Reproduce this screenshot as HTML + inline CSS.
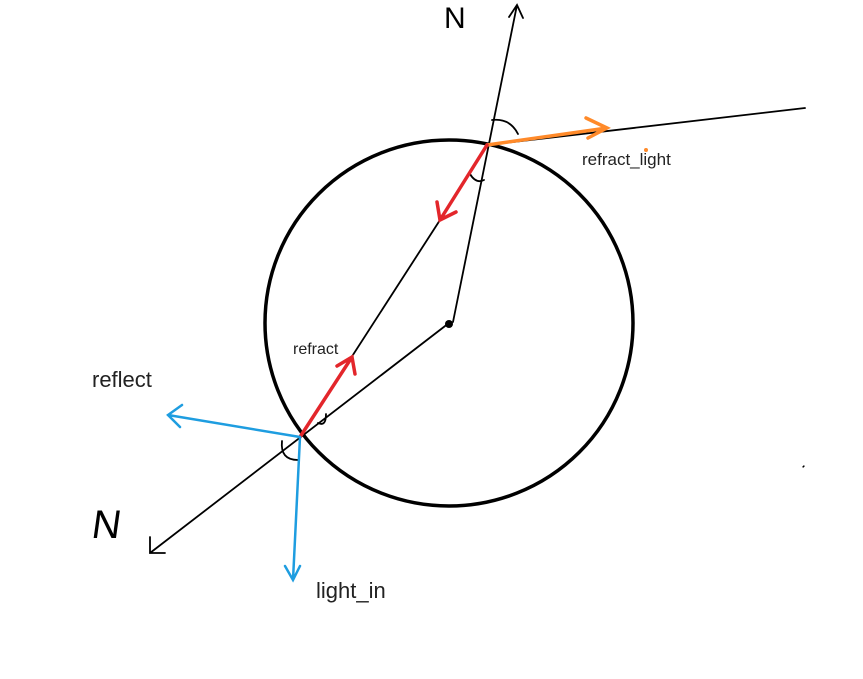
<!DOCTYPE html>
<html><head><meta charset="utf-8"><style>
html,body{margin:0;padding:0;background:#fff;width:863px;height:679px;overflow:hidden}
svg{display:block}
text{font-family:"Liberation Sans",sans-serif}
</style></head><body>
<svg width="863" height="679" viewBox="0 0 863 679">
<rect width="863" height="679" fill="#fff"/>
<ellipse cx="449" cy="323" rx="184" ry="183" fill="none" stroke="#000" stroke-width="3.5"/>
<circle cx="449" cy="324" r="4" fill="#000"/>
<g stroke="#000" stroke-width="1.8" fill="none" stroke-linecap="round">
<path d="M453 322 L517 5 M509 17 L517 5 L523 18"/>
<path d="M487 145 L805 108"/>
<path d="M440 220 L300 437"/>
<path d="M449 323 L150 553 M150 537 L150 553 L165 553"/>
<path d="M492 120 Q510 118 518 134"/>
<path d="M470 174 Q476 184 484 180"/>
<path d="M318 423 Q326 427 326 414"/>
<path d="M282 441 Q280 460 298 460"/>
</g>
<path d="M487 145 L607 128 M586 118 L607 128 L588 138" stroke="#ff8a2a" stroke-width="3.5" fill="none" stroke-linecap="round"/>
<circle cx="646" cy="150" r="2" fill="#ff8a2a"/>
<path d="M487 145 L440 220 M437 202 L440 220 L456 212" stroke="#e3262b" stroke-width="3.5" fill="none" stroke-linecap="round"/>
<path d="M300 437 L352 357 M337 366 L352 357 L355 374" stroke="#e3262b" stroke-width="3.5" fill="none" stroke-linecap="round"/>
<path d="M300 437 L168 415 M182 405 L168 415 L180 427" stroke="#1e9de0" stroke-width="2.5" fill="none" stroke-linecap="round"/>
<path d="M300 437 L293 580 M285 566 L293 580 L300 566" stroke="#1e9de0" stroke-width="2.5" fill="none" stroke-linecap="round"/>
<path d="M803 466 L804 467" stroke="#000" stroke-width="2.5"/>
<text x="444" y="28" font-size="30" fill="#000">N</text>
<text x="96" y="538" font-size="40" fill="#000" transform="skewX(-8) translate(70 0)">N</text>
<text x="582" y="165" font-size="17" fill="#222">refract_light</text>
<text x="293" y="354" font-size="16" fill="#222">refract</text>
<text x="92" y="387" font-size="22" fill="#222">reflect</text>
<text x="316" y="598" font-size="22" fill="#222">light_in</text>
</svg>
</body></html>
